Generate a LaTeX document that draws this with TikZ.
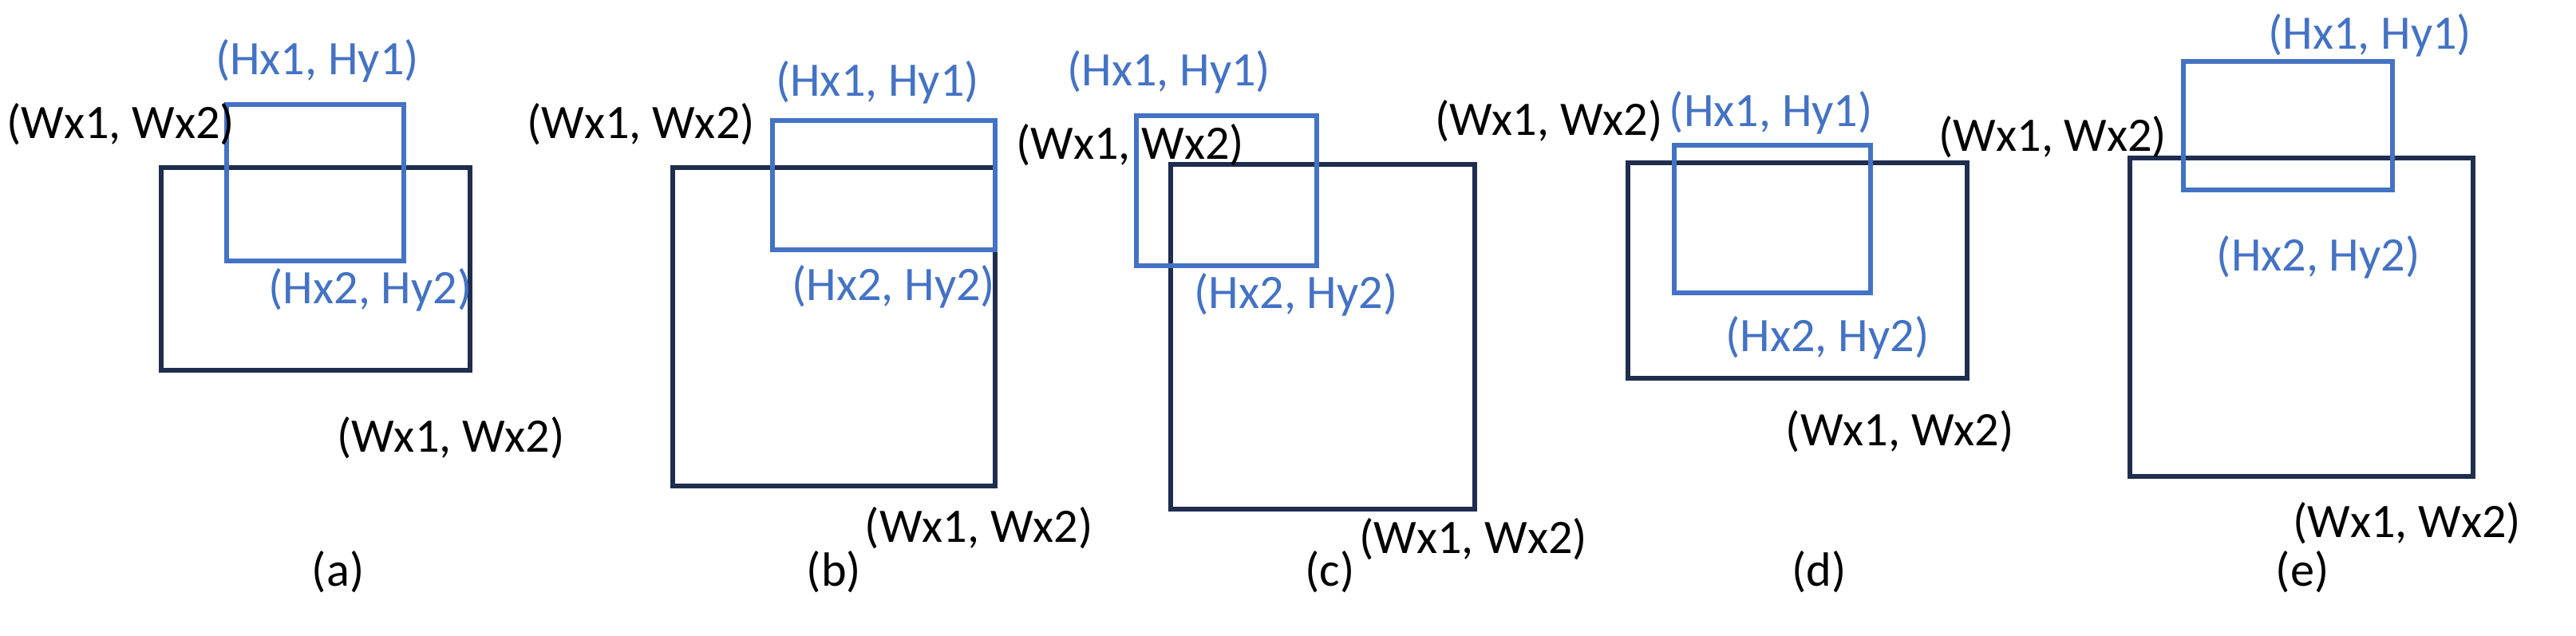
\documentclass[tikz,border=0pt]{standalone}
\usepackage{fontspec}
\setmainfont{Carlito}
\definecolor{wbox}{HTML}{1F2D4E}
\definecolor{hbox}{HTML}{4472C4}
\tikzset{
  wrect/.style={draw=wbox, line width=1.7pt},
  hrect/.style={draw=hbox, line width=1.7pt},
  wlab/.style={inner sep=0pt, text=black, font=\fontsize{17}{20}\selectfont},
  hlab/.style={inner sep=0pt, text=hbox, font=\fontsize{17}{20}\selectfont},
  sublab/.style={inner sep=0pt, font=\fontsize{17}{20}\selectfont}
}
\begin{document}
\begin{tikzpicture}[x=0.02cm, y=-0.02cm]
\useasboundingbox (0,0) rectangle (1600,395);
% (a)
\draw [wrect] (100,104) rectangle (292,230);
\draw [hrect] (141,65) rectangle (251,162);
\node [hlab] (ah1) at (197,38) {(Hx1, Hy1)};
\node [wlab] (aw1) at (75,77) {(Wx1, Wx2)};
\node [hlab] (ah2) at (230,180) {(Hx2, Hy2)};
\node [wlab] (aw2) at (280,272) {(Wx1, Wx2)};
\node [sublab] (capa) at (210,355) {(a)};
% (b)
\draw [wrect] (418,104) rectangle (618,302);
\draw [hrect] (480,75) rectangle (618,155);
\node [hlab] (bh1) at (545,51) {(Hx1, Hy1)};
\node [wlab] (bw1) at (398,77) {(Wx1, Wx2)};
\node [hlab] (bh2) at (555,178) {(Hx2, Hy2)};
\node [wlab] (bw2) at (608,328) {(Wx1, Wx2)};
\node [sublab] (capb) at (518,355) {(b)};
% (c)
\draw [wrect] (727,102) rectangle (916,316);
\draw [hrect] (706,72) rectangle (818,165);
\node [hlab] (ch1) at (726,45) {(Hx1, Hy1)};
\node [wlab] (cw1) at (702,90) {(Wx1, Wx2)};
\node [hlab] (ch2) at (805,183) {(Hx2, Hy2)};
\node [wlab] (cw2) at (915,335) {(Wx1, Wx2)};
\node [sublab] (capc) at (826,355) {(c)};
% (d)
\draw [wrect] (1011,101) rectangle (1222,235);
\draw [hrect] (1040,90) rectangle (1162,182);
\node [hlab] (dh1) at (1100,70) {(Hx1, Hy1)};
\node [wlab] (dw1) at (962,75) {(Wx1, Wx2)};
\node [hlab] (dh2) at (1135,210) {(Hx2, Hy2)};
\node [wlab] (dw2) at (1180,268) {(Wx1, Wx2)};
\node [sublab] (capd) at (1130,355) {(d)};
% (e)
\draw [wrect] (1323,98) rectangle (1536,296);
\draw [hrect] (1356,38) rectangle (1486,118);
\node [hlab] (eh1) at (1472,22) {(Hx1, Hy1)};
\node [wlab] (ew1) at (1275,85) {(Wx1, Wx2)};
\node [hlab] (eh2) at (1440,160) {(Hx2, Hy2)};
\node [wlab] (ew2) at (1495,325) {(Wx1, Wx2)};
\node [sublab] (cape) at (1430,355) {(e)};
\end{tikzpicture}
\end{document}
